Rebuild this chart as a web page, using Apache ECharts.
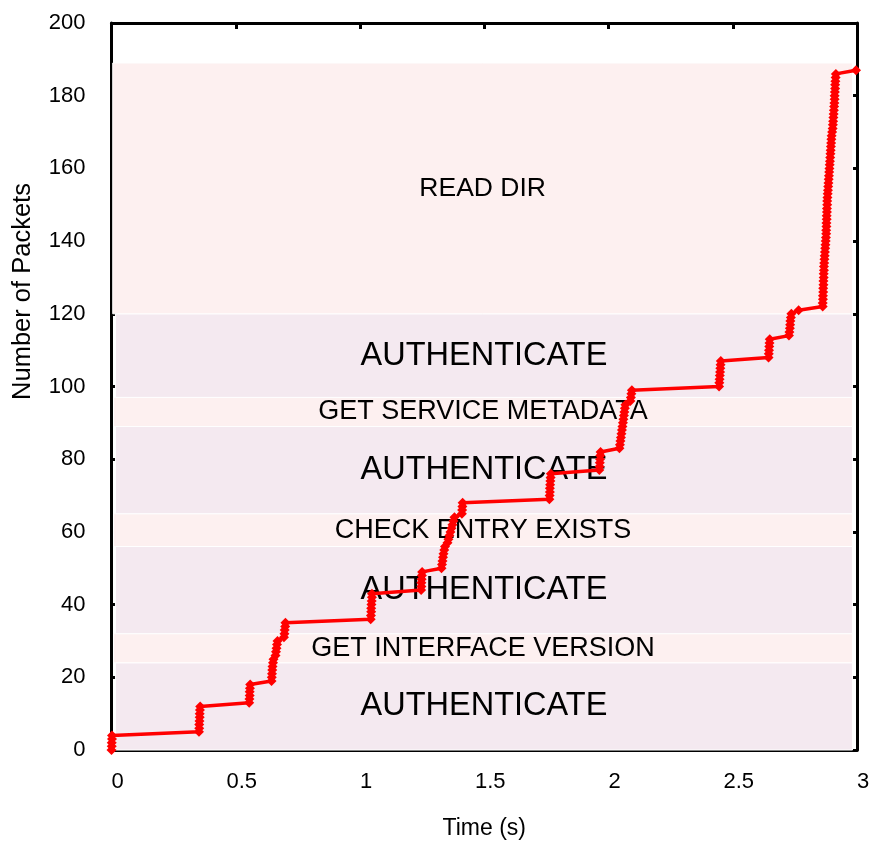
<!DOCTYPE html>
<html>
<head>
<meta charset="utf-8">
<script src="https://cdn.jsdelivr.net/npm/echarts@6/dist/echarts.min.js"></script>
<style>
  html, body { margin: 0; padding: 0; background: #fff; }
  #chart { width: 869px; height: 844px; }
</style>
</head>
<body>
<div id="chart"></div>
<script>
// Arrival time (s) of each packet in the session
const packetTimes = [
  0.000, 0.001, 0.001, 0.002, 0.002,
  0.352, 0.353, 0.353, 0.354, 0.355, 0.355, 0.356, 0.357,
  0.554, 0.555, 0.556, 0.556, 0.557, 0.558,
  0.644, 0.645, 0.646, 0.647, 0.648, 0.650, 0.652, 0.660, 0.662, 0.664, 0.666, 0.668,
  0.694, 0.696, 0.697, 0.699, 0.700,
  1.043, 1.044, 1.045, 1.045, 1.046, 1.047, 1.048, 1.048,
  1.246, 1.247, 1.247, 1.248, 1.249, 1.250,
  1.328, 1.330, 1.332, 1.334, 1.336, 1.339, 1.342,
  1.352, 1.356, 1.360, 1.364, 1.368, 1.372, 1.376, 1.380,
  1.410, 1.411, 1.412, 1.413,
  1.762, 1.763, 1.764, 1.764, 1.765, 1.766, 1.767, 1.768,
  1.963, 1.964, 1.965, 1.966, 1.967, 1.968,
  2.044, 2.046, 2.048, 2.050, 2.052, 2.054, 2.056, 2.058, 2.060, 2.062, 2.064, 2.066, 2.068,
  2.088, 2.090, 2.092, 2.094,
  2.445, 2.446, 2.447, 2.448, 2.449, 2.450, 2.451, 2.452,
  2.644, 2.645, 2.646, 2.647, 2.648, 2.649,
  2.726, 2.728, 2.730, 2.731, 2.732, 2.734, 2.736,
  2.765,
  2.862, 2.862, 2.863, 2.863, 2.864, 2.864, 2.865, 2.865, 2.866, 2.866,
  2.867, 2.867, 2.868, 2.869, 2.870, 2.871, 2.872, 2.873, 2.874,
  2.875, 2.876, 2.876, 2.877, 2.877, 2.878, 2.878, 2.879, 2.879, 2.880,
  2.880, 2.881, 2.882, 2.883, 2.884, 2.885, 2.886, 2.887,
  2.888, 2.889, 2.890, 2.891, 2.892, 2.893, 2.894, 2.895, 2.896, 2.897,
  2.898, 2.900, 2.902, 2.903,
  2.904, 2.905, 2.906, 2.907, 2.908, 2.909, 2.910, 2.910, 2.911, 2.912,
  2.912, 2.913, 2.914, 2.915,
  2.996
];

// Cumulative packet count at each arrival
const packetCounts = [
  0, 1, 2, 3, 4,
  5, 6, 7, 8, 9, 10, 11, 12,
  13, 14, 15, 16, 17, 18,
  19, 20, 21, 22, 23, 24, 25, 26, 27, 28, 29, 30,
  31, 32, 33, 34, 35,
  36, 37, 38, 39, 40, 41, 42, 43,
  44, 45, 46, 47, 48, 49,
  50, 51, 52, 53, 54, 55, 56,
  57, 58, 59, 60, 61, 62, 63, 64,
  65, 66, 67, 68,
  69, 70, 71, 72, 73, 74, 75, 76,
  77, 78, 79, 80, 81, 82,
  83, 84, 85, 86, 87, 88, 89, 90, 91, 92, 93, 94, 95,
  96, 97, 98, 99,
  100, 101, 102, 103, 104, 105, 106, 107,
  108, 109, 110, 111, 112, 113,
  114, 115, 116, 117, 118, 119, 120,
  121,
  122, 123, 124, 125, 126, 127, 128, 129, 130, 131,
  132, 133, 134, 135, 136, 137, 138, 139, 140,
  141, 142, 143, 144, 145, 146, 147, 148, 149, 150,
  151, 152, 153, 154, 155, 156, 157, 158,
  159, 160, 161, 162, 163, 164, 165, 166, 167, 168,
  169, 170, 171, 172,
  173, 174, 175, 176, 177, 178, 179, 180, 181, 182,
  183, 184, 185, 186,
  187
];

// Protocol phases: label and packet-count range covered by each
const phaseNames = [
  'AUTHENTICATE', 'GET INTERFACE VERSION', 'AUTHENTICATE', 'CHECK ENTRY EXISTS',
  'AUTHENTICATE', 'GET SERVICE METADATA', 'AUTHENTICATE', 'READ DIR'
];
const phaseFrom = [0, 24, 32, 56, 65, 89, 97, 120];
const phaseTo   = [24, 32, 56, 65, 89, 97, 120, 189];

// Axis ticks
const xTicks = [0, 0.5, 1, 1.5, 2, 2.5, 3];
const yTicks = [0, 20, 40, 60, 80, 100, 120, 140, 160, 180, 200];

const FONT = '"Liberation Sans", Arial, Helvetica, sans-serif';
const AUTH_FILL = '#f4e9f0';
const LIGHT_FILL = '#fdf0f0';

const points = packetTimes.map((t, i) => [t, packetCounts[i]]);

const phaseAreas = phaseNames.map((name, i) => {
  const isAuth = name === 'AUTHENTICATE';
  const isLast = i === phaseNames.length - 1;
  return [
    {
      name: name,
      xAxis: isLast ? 0.005 : (isAuth ? 0.016 : 0.008),
      yAxis: phaseFrom[i],
      itemStyle: {
        color: isAuth ? AUTH_FILL : LIGHT_FILL,
        borderColor: '#ffffff',
        borderWidth: 1
      },
      label: {
        fontSize: isAuth ? 32.5 : (isLast ? 26.5 : 27)
      }
    },
    { xAxis: 2.982, yAxis: phaseTo[i] }
  ];
});

const axisLineStyle = { show: true, onZero: false, lineStyle: { color: '#000', width: 3 } };
const tickStyle = { show: true, inside: true, length: 6, lineStyle: { color: '#000', width: 3 } };

const chart = echarts.init(document.getElementById('chart'), null, { renderer: 'canvas' });

chart.setOption({
  animation: false,
  backgroundColor: '#ffffff',
  textStyle: { fontFamily: FONT },
  grid: { left: 111.5, right: 12, top: 23, bottom: 94, containLabel: false, outerBoundsMode: 'none' },
  xAxis: [
    {
      type: 'value',
      position: 'bottom',
      min: xTicks[0],
      max: xTicks[xTicks.length - 1],
      interval: 0.5,
      axisLine: axisLineStyle,
      axisTick: tickStyle,
      splitLine: { show: false },
      axisLabel: { fontSize: 22, color: '#000', margin: 21, padding: [0, 0, 0, 12], fontFamily: FONT },
      name: 'Time (s)',
      nameLocation: 'middle',
      nameGap: 67,
      nameTextStyle: { fontSize: 23, color: '#000', fontFamily: FONT }
    },
    {
      type: 'value',
      position: 'top',
      min: xTicks[0],
      max: xTicks[xTicks.length - 1],
      interval: 0.5,
      axisLine: axisLineStyle,
      axisTick: tickStyle,
      splitLine: { show: false },
      axisLabel: { show: false }
    }
  ],
  yAxis: [
    {
      type: 'value',
      position: 'left',
      min: yTicks[0],
      max: yTicks[yTicks.length - 1],
      interval: 20,
      axisLine: axisLineStyle,
      axisTick: tickStyle,
      splitLine: { show: false },
      axisLabel: { fontSize: 22, color: '#000', margin: 26, fontFamily: FONT },
      name: 'Number of Packets',
      nameLocation: 'middle',
      nameGap: 76,
      nameTextStyle: { fontSize: 25.5, color: '#000', fontFamily: FONT, padding: [0, 0, 0, 190] }
    },
    {
      type: 'value',
      position: 'right',
      min: yTicks[0],
      max: yTicks[yTicks.length - 1],
      interval: 20,
      axisLine: axisLineStyle,
      axisTick: tickStyle,
      splitLine: { show: false },
      axisLabel: { show: false }
    }
  ],
  series: [
    {
      name: 'phases',
      type: 'line',
      xAxisIndex: 0,
      yAxisIndex: 0,
      data: [],
      z: 1,
      silent: true,
      markArea: {
        silent: true,
        label: {
          show: true,
          position: 'inside',
          color: '#000',
          fontFamily: FONT
        },
        data: phaseAreas
      }
    },
    {
      name: 'packets',
      type: 'line',
      xAxisIndex: 0,
      yAxisIndex: 0,
      data: points,
      z: 5,
      showAllSymbol: true,
      symbol: 'diamond',
      symbolSize: [10, 10],
      itemStyle: { color: '#ff0000' },
      lineStyle: { color: '#ff0000', width: 3.5 },
      emphasis: { disabled: true }
    }
  ]
});
</script>
</body>
</html>
